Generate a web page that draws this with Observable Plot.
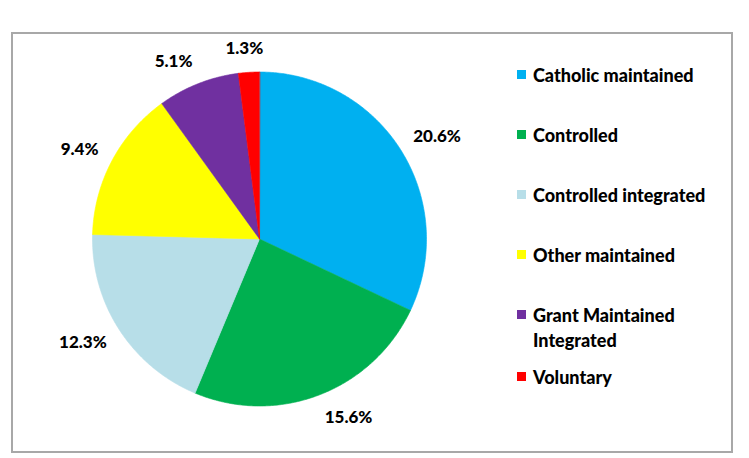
<!DOCTYPE html>
<html>
<head>
<meta charset="utf-8">
<script src="https://cdn.jsdelivr.net/npm/d3@7"></script>
<script src="https://cdn.jsdelivr.net/npm/@observablehq/plot@0.6"></script>
<style>
  body { margin: 0; background: #fff; }
  #wrap { position: relative; width: 749px; height: 458px; overflow: hidden; font-family: Lato, "Open Sans", sans-serif; }
  #title { position: absolute; left: 0; top: -22px; width: 720px; text-align: center; font-weight: bold; font-size: 19px; color: #000; margin: 0; }
  #frame { position: absolute; left: 11px; top: 32px; width: 722px; height: 421px; box-sizing: border-box; border: 2px solid #a8a8a8; }
  #chart { position: absolute; left: 0; top: 0; }
  #legend { position: absolute; left: 517px; top: 63px; display: flex; flex-direction: column; gap: 35px; font-weight: 900; font-size: 18px; line-height: 25px; color: #000; }
  #legend .item { display: flex; align-items: flex-start; }
  #legend .item:last-child { margin-top: -23px; }
  #legend .sw { width: 9px; height: 9px; flex: none; margin-top: 7px; margin-right: 7px; }
  #legend .lbl { width: 200px; }
</style>
</head>
<body>
<div id="wrap">
  <div id="frame"></div>
  <h2 id="title">Pupils by School Type</h2>
  <div id="chart"></div>
  <div id="legend"></div>
</div>
<script>
// Share of pupils (%) by school management type
const categories = [
  "Catholic maintained",
  "Controlled",
  "Controlled integrated",
  "Other maintained",
  "Grant Maintained Integrated",
  "Voluntary"
];
const shares = [20.6, 15.6, 12.3, 9.4, 5.1, 1.3];
const colors = ["#00B0F0", "#00B050", "#B7DEE8", "#FFFF00", "#7030A0", "#FF0000"];

// Pie layout: clockwise from 12 o'clock, on a unit circle
const total = d3.sum(shares);
let acc = 0;
const slices = categories.map((category, i) => {
  const a0 = (acc / total) * 2 * Math.PI;
  acc += shares[i];
  const a1 = (acc / total) * 2 * Math.PI;
  return {category, value: shares[i], a0, a1, mid: (a0 + a1) / 2};
});

const features = slices.map((s) => {
  const ring = [[0, 0]];
  const n = Math.max(2, Math.ceil((s.a1 - s.a0) / 0.01));
  for (let k = 0; k <= n; ++k) {
    const a = s.a0 + ((s.a1 - s.a0) * k) / n;
    ring.push([Math.sin(a), Math.cos(a)]);
  }
  ring.push([0, 0]);
  return {type: "Feature", properties: {category: s.category}, geometry: {type: "Polygon", coordinates: [ring]}};
});

const R = 167;
const cx = 259, cy = 238.5;
const labelSize = 17;

// Outside-end labels: anchor just beyond the rim at the slice's mid-angle,
// then shift the text box outward so it clears the rim.
const soft = (v) => Math.max(-1, Math.min(1, v * 3));
const labels = slices.map((s) => {
  const text = s.value.toFixed(1) + "%";
  const w = text.length * labelSize * 0.56;
  const h = labelSize * 1.05;
  const ax = (R + 15) * Math.sin(s.mid) + soft(Math.sin(s.mid)) * w / 2;
  const ay = (R + 15) * Math.cos(s.mid) + Math.cos(s.mid) * h / 2;
  return {x: ax / R, y: ay / R, text};
});

const chart = Plot.plot({
  width: 749,
  height: 458,
  margin: 0,
  style: {background: "transparent", overflow: "visible"},
  projection: d3.geoIdentity().reflectY(true).scale(R).translate([cx, cy]),
  color: {domain: categories, range: colors},
  marks: [
    Plot.geo(features, {fill: (d) => d.properties.category, stroke: (d) => d.properties.category, strokeWidth: 0.6}),
    Plot.text(labels, {
      x: "x",
      y: "y",
      text: "text",
      fontFamily: "Lato, 'Open Sans', sans-serif",
      fontWeight: 900,
      fontSize: labelSize,
      fill: "#000"
    })
  ]
});
document.getElementById("chart").appendChild(chart);

// Legend
const legend = d3.select("#legend");
categories.forEach((c, i) => {
  const item = legend.append("div").attr("class", "item");
  item.append("div").attr("class", "sw").style("background", colors[i]);
  item.append("div").attr("class", "lbl").text(c);
});
</script>
</body>
</html>
